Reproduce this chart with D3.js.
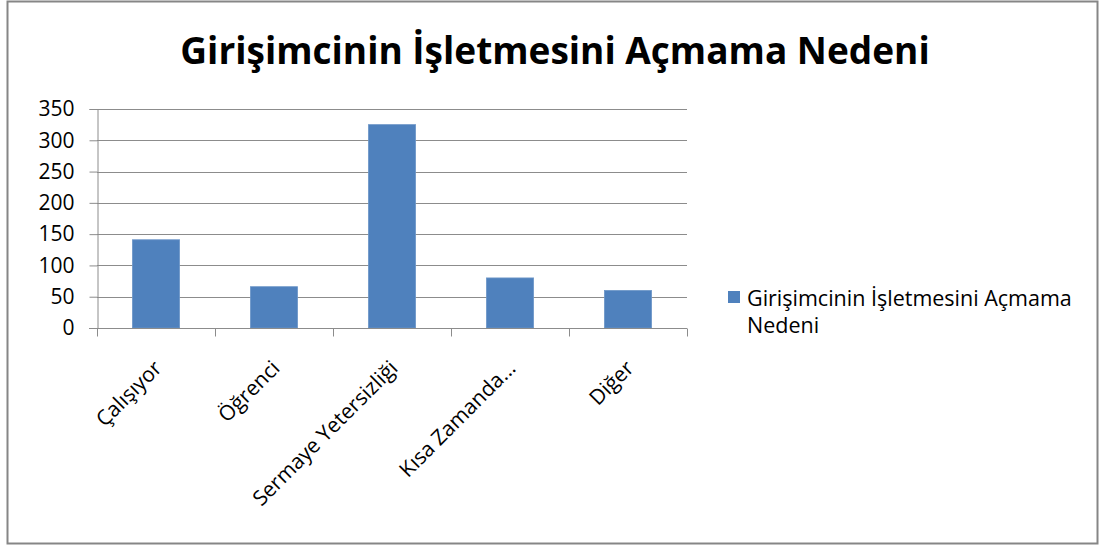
<!DOCTYPE html>
<html>
<head>
<meta charset="utf-8">
<script src="https://cdn.jsdelivr.net/npm/d3@7"></script>
<style>
  body { margin: 0; background: #fff; }
  svg { display: block; font-family: "Open Sans", sans-serif; }
</style>
</head>
<body>
<div id="wrapper"></div>
<script>
// chart data
const categories = ["Çalışıyor", "Öğrenci", "Sermaye Yetersizliği", "Kısa Zamanda...", "Diğer"]
const values = [141, 66, 325, 80, 60]
const yTicks = [0, 50, 100, 150, 200, 250, 300, 350]
const chartTitle = "Girişimcinin İşletmesini Açmama Nedeni"
const legendLines = ["Girişimcinin İşletmesini Açmama", "Nedeni"]

const width = 1099
const height = 545
let dimensions = {
  margin: { top: 109, left: 97 },
  boundedWidth: 590,
  boundedHeight: 219,
}

const svg = d3.select("#wrapper")
  .append("svg")
    .attr("width", width)
    .attr("height", height)

// outer frame
svg.append("rect")
  .attr("x", 7.5)
  .attr("y", 1.5)
  .attr("width", 1090)
  .attr("height", 542)
  .attr("fill", "#fff")
  .attr("stroke", "#868686")
  .attr("stroke-width", 2)

// title
svg.append("text")
  .attr("x", 555)
  .attr("y", 64)
  .attr("text-anchor", "middle")
  .attr("font-size", 37)
  .attr("font-weight", "bold")
  .attr("fill", "#000")
  .text(chartTitle)

const bounds = svg.append("g")
  .attr("transform", "translate(" + dimensions.margin.left + "," + dimensions.margin.top + ")")

const y = d3.scaleLinear()
  .domain([0, 350])
  .range([dimensions.boundedHeight, 0])

const x = d3.scaleBand()
  .domain(categories)
  .range([0, dimensions.boundedWidth])
  .padding(0)

// gridlines
bounds.append("g")
  .selectAll("line")
  .data(yTicks.slice(1))
  .enter().append("line")
    .attr("x1", 0)
    .attr("x2", dimensions.boundedWidth)
    .attr("y1", d => Math.round(y(d)) + 0.5)
    .attr("y2", d => Math.round(y(d)) + 0.5)
    .attr("stroke", "#8c8c8c")
    .attr("stroke-width", 1)

// bars
const barWidth = x.bandwidth() * 0.4
bounds.selectAll("rect.bar")
  .data(values)
  .enter().append("rect")
    .attr("class", "bar")
    .attr("x", (d, i) => x(categories[i]) + (x.bandwidth() - barWidth) / 2)
    .attr("y", d => y(d))
    .attr("width", barWidth)
    .attr("height", d => y(0) - y(d))
    .attr("fill", "#4f81bd")
    .attr("stroke", "#6d96c8")
    .attr("stroke-width", 0.8)

// y axis
const yAxis = bounds.append("g")
  .attr("transform", "translate(0.5,0)")
  .call(d3.axisLeft(y).tickValues(yTicks).tickSize(8).tickPadding(15))
yAxis.selectAll("line, path").attr("stroke", "#8c8c8c")
yAxis.selectAll("text")
  .attr("font-size", 21)
  .attr("font-family", "Open Sans")
  .attr("fill", "#000")

// x axis line and ticks at band boundaries
const xAxis = bounds.append("g")
  .attr("transform", "translate(0," + (Math.round(y(0)) + 0.5) + ")")
xAxis.append("line")
  .attr("x1", -8).attr("x2", dimensions.boundedWidth)
  .attr("stroke", "#8c8c8c")
xAxis.selectAll("line.tick")
  .data(categories.map(c => x(c)).concat([dimensions.boundedWidth]))
  .enter().append("line")
    .attr("class", "tick")
    .attr("x1", d => Math.round(d) + 0.5)
    .attr("x2", d => Math.round(d) + 0.5)
    .attr("y1", 0)
    .attr("y2", 8)
    .attr("stroke", "#8c8c8c")

// rotated category labels
xAxis.selectAll("text")
  .data(categories)
  .enter().append("text")
    .attr("transform", d => "translate(" + (x(d) + x.bandwidth() / 2 + 7) + ",41) rotate(-45)")
    .attr("text-anchor", "end")
    .attr("font-size", 21)
    .attr("fill", "#000")
    .text(d => d)

// legend
const legend = svg.append("g")
  .attr("transform", "translate(728,291)")
legend.append("rect")
  .attr("width", 12)
  .attr("height", 12)
  .attr("fill", "#4f81bd")
legend.selectAll("text")
  .data(legendLines)
  .enter().append("text")
    .attr("x", 19)
    .attr("y", (d, i) => 15 + i * 27)
    .attr("font-size", 21.5)
    .attr("fill", "#000")
    .text(d => d)
</script>
</body>
</html>
